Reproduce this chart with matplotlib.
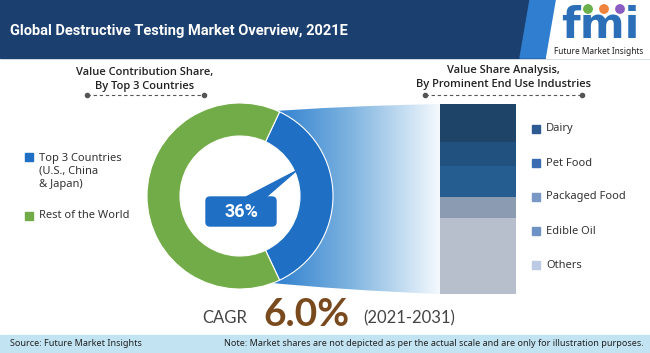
import numpy as np
import matplotlib.pyplot as plt
from matplotlib.patches import Rectangle, Polygon, FancyBboxPatch, Circle, PathPatch
from matplotlib.path import Path
from matplotlib.colors import LinearSegmentedColormap

plt.rcParams['font.family'] = ['Noto Sans', 'DejaVu Sans']

# data
title = 'Global Destructive Testing Market Overview, 2021E'
donut_labels = ['Top 3 Countries\n(U.S., China\n& Japan)', 'Rest of the World']
donut_values = [36, 64]
donut_colors = ['#1f6fc5', '#72ac48']
bar_labels = ['Dairy', 'Pet Food', 'Packaged Food', 'Edible Oil', 'Others']
bar_values = [38, 24, 31, 21, 76]   # illustrative heights
bar_colors = ['#1e4468', '#21527f', '#255d91', '#8b9bb2', '#b8bfcc']
legend_colors = ['#2d5b92', '#3b6bb0', '#7a98c6', '#6e92c4', '#bccbe3']
cagr = '6.0%'
period = '(2021-2031)'

W, H = 650, 353
fig = plt.figure(figsize=(W / 100, H / 100), dpi=100)
ax = fig.add_axes([0, 0, 1, 1])
ax.set_xlim(0, W)
ax.set_ylim(H, 0)
ax.axis('off')

# header
ax.add_patch(Rectangle((0, 0), W, 58, color='#1b3f6e', zorder=1))
ax.add_patch(Polygon([(530, 0), (556, 0), (546, 58), (520, 58)], color='#2f7ed0', zorder=2))
ax.add_patch(Polygon([(556, 0), (W, 0), (W, 58), (546, 58)], color='white', zorder=2))
ax.text(10, 31, title, color='white', fontsize=10.5, fontweight='bold', va='center',
        family='Roboto', zorder=3)

# logo
ax.text(600, 26, 'fmi', color='#2a6fb7', fontsize=31, fontweight='bold', ha='center',
        va='center', family='DejaVu Sans', zorder=3)
for cx, c in zip([588, 604, 620], ['#6ab04c', '#f0843c', '#8a5cc2']):
    ax.add_patch(Circle((cx, 9), 4.2, color=c, zorder=4))
ax.text(599, 52, 'Future Market Insights', color='#222222', fontsize=6, ha='center',
        va='center', zorder=3)

# footer
ax.add_patch(Rectangle((0, 335), W, H - 335, color='#c2e3f2', zorder=1))
ax.text(10, 344, 'Source: Future Market Insights', fontsize=6.5, va='center', color='#222222')
ax.text(644, 344, 'Note: Market shares are not depicted as per the actual scale and are only for '
        'illustration purposes.', fontsize=6.5, va='center', ha='right', color='#222222')

# subtitles
sub = dict(fontsize=8, fontweight='semibold', family='Open Sans', ha='center', va='center',
           color='#222222')
ax.text(145, 72, 'Value Contribution Share,', **sub)
ax.text(145, 86, 'By Top 3 Countries', **sub)
ax.text(503, 70, 'Value Share Analysis,', **sub)
ax.text(503, 84, 'By Prominent End Use Industries', **sub)
for x0, x1 in [(87, 204), (425, 582)]:
    ax.plot([x0, x1], [95, 95], color='#555555', lw=0.8, ls=(0, (3, 2.5)))
    ax.plot([x0, x1], [95, 95], 'o', color='#555555', ms=3)

# gradient funnel between donut and bar
verts = [(262, 112), (340, 106), (440, 104), (440, 294), (340, 290), (262, 282), (262, 112)]
codes = [Path.MOVETO, Path.CURVE3, Path.CURVE3, Path.LINETO, Path.CURVE3, Path.CURVE3, Path.CLOSEPOLY]
clip = PathPatch(Path(verts, codes), facecolor='none', edgecolor='none')
ax.add_patch(clip)
grad = np.linspace(0, 1, 256).reshape(1, -1)
cmap = LinearSegmentedColormap.from_list('fade', ['#2277cc', '#7fb4e0', '#f4f9fd'])
im = ax.imshow(grad, cmap=cmap, extent=(262, 440, 294, 104), aspect='auto', zorder=2)
im.set_clip_path(clip)
ax.set_xlim(0, W)
ax.set_ylim(H, 0)

# stacked bar
bottoms = np.concatenate([[0], np.cumsum(bar_values)[:-1]])
ax.bar([478] * len(bar_values), bar_values, width=76, bottom=bottoms + 104,
       color=bar_colors, zorder=3, align='center')
for i, (lab, c) in enumerate(zip(bar_labels, legend_colors)):
    y = 129 + i * 34
    ax.add_patch(Rectangle((532, y - 4), 8, 8, color=c, zorder=3))
    ax.text(546, y, lab, fontsize=8, va='center', color='#333333')

# left legend
ax.add_patch(Rectangle((25, 153), 8, 8, color=donut_colors[0]))
ax.text(39, 171, donut_labels[0], fontsize=8, va='center', color='#333333', linespacing=1.25)
ax.add_patch(Rectangle((25, 212), 8, 8, color=donut_colors[1]))
ax.text(39, 216, donut_labels[1], fontsize=8, va='center', color='#333333')

# CAGR
ax.text(247, 318, 'CAGR', fontsize=12, color='#444444', ha='right', va='center', family='Lato')
ax.text(306, 314, cagr, fontsize=28, color='#7a4a1f', ha='center', va='center',
        fontweight='bold', family='Lato')
ax.text(363, 318, period, fontsize=12, color='#444444', ha='left', va='center', family='Lato')

# donut
R = 93
ring = 33 / R
cx, cy = 240, 196
dax = fig.add_axes([(cx - R) / W, (H - cy - R) / H, 2 * R / W, 2 * R / H])
dax.add_patch(Circle((0, 0), 1 - ring, color='white', zorder=0))
dax.pie(donut_values, colors=donut_colors, startangle=-donut_values[0] / 100 * 180,
        counterclock=True, wedgeprops=dict(width=ring, edgecolor='white', linewidth=0.8))
dax.set_xlim(-1, 1)
dax.set_ylim(-1, 1)
dax.set_aspect('equal')
dax.axis('off')

# callout over donut
cax = fig.add_axes([0, 0, 1, 1])
cax.set_xlim(0, W)
cax.set_ylim(H, 0)
cax.axis('off')
cax.add_patch(Polygon([(246, 197), (266, 197), (296, 171)], color='#1f6fc5'))
cax.add_patch(FancyBboxPatch((206, 197), 70, 29, boxstyle='round,pad=0,rounding_size=4',
                             color='#1f6fc5'))
cax.text(241, 212, f'{donut_values[0]}%', color='white', fontsize=13, fontweight='bold',
         family='Roboto', ha='center', va='center')

fig.savefig('out.png', dpi=100)
